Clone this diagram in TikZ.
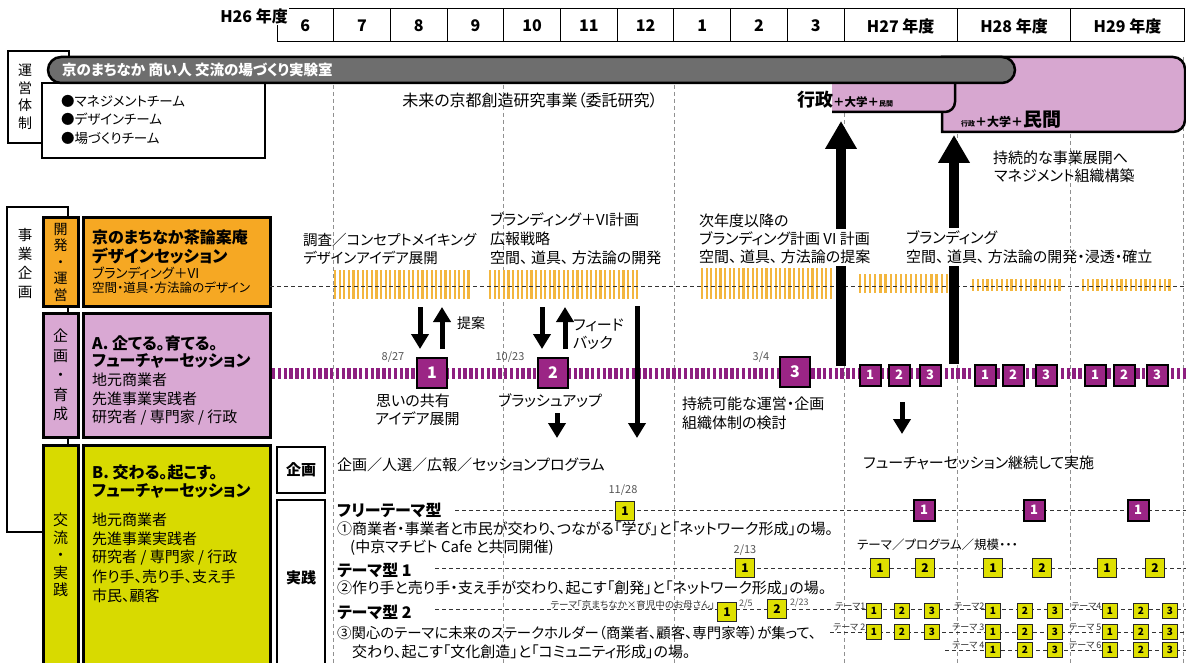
\documentclass[tikz,border=0pt]{standalone}
\usepackage{fontspec}
\setmainfont{Noto Sans CJK JP}[RawFeature=+palt]
\usetikzlibrary{arrows.meta}
\definecolor{gbar}{HTML}{6E6E6E}
\definecolor{pinkT}{HTML}{D7A7D0}
\definecolor{pinkB}{HTML}{D9A8D3}
\definecolor{orB}{HTML}{F6A823}
\definecolor{stripeC}{HTML}{F3B63E}
\definecolor{yelB}{HTML}{D8DA00}
\definecolor{magB}{HTML}{9B2585}
\definecolor{magL}{HTML}{8E1F80}
\definecolor{ysq}{HTML}{DFE000}
\definecolor{gridC}{HTML}{909090}
\definecolor{dateC}{HTML}{555555}
\newcommand\FS[1]{\fontsize{#1}{#1}\selectfont}
\begin{document}
\begin{tikzpicture}[x=1pt,y=-1pt,
 t/.style={inner sep=0pt, anchor=west, font=\FS{15}},
 tw/.style={t, fill=white, inner ysep=2.5pt, inner xsep=1pt},
 tb/.style={inner sep=0pt, anchor=west, font=\bfseries\FS{15.5}},
 lbl/.style={inner sep=0pt, font=\FS{11}, text=dateC},
 thm/.style={inner sep=0.5pt, anchor=south east, font=\FS{9}, text=black!80},
 gridl/.style={draw=gridC, line width=0.8pt, dash pattern=on 4pt off 3pt},
 dsh/.style={draw=black!80, line width=0.7pt, dash pattern=on 4pt off 3pt},
 frm/.style={draw=black, line width=1.2pt},
 cbox/.style={draw=black, line width=3pt},
 msq/.style={draw=black, line width=2.5pt, fill=magB, text=white, inner sep=0pt, minimum size=30pt, font=\bfseries\FS{16}},
 msqs/.style={msq, line width=2pt, minimum size=21pt, font=\bfseries\FS{13}},
 ysqA/.style={draw=black!85, line width=1.3pt, fill=ysq, inner sep=0pt, minimum size=19pt, font=\bfseries\FS{12}},
 ysqB/.style={ysqA, minimum size=15pt, line width=1.1pt, font=\bfseries\FS{10}},
 marr/.style={line width=5pt, -{Triangle[width=17pt,length=15pt]}},
 barr/.style={line width=10pt, -{Triangle[width=30pt,length=28pt]}},
 vt/.style={align=center, inner sep=0pt},
]
\useasboundingbox (0,0) rectangle (1186,663);
\fill[white] (0,0) rectangle (1186,663);

% grid
\foreach \x in {333.7,503.8,673.9,844,957.4,1070.8,1183.5} \draw[gridl] (\x,57) -- (\x,663);

% header
\draw[line width=1pt] (277,9) rectangle (1184,42);
\foreach \x in {333.7,390.4,447.1,503.8,560.5,617.2,673.9,730.6,787.3,844,957.4,1070.8} \draw[line width=1pt] (\x,9) -- (\x,42);
\foreach \lab [count=\i] in {6,7,8,9,10,11,12,1,2,3}
  \node[font=\bfseries\FS{16}, inner sep=0pt] (m\i) at ({277+56.7*(\i-0.5)},26) {\lab};
\node[font=\bfseries\FS{16}, inner sep=0pt] (yr27) at (900.7,26) {H27 年度};
\node[font=\bfseries\FS{16}, inner sep=0pt] (yr28) at (1014.1,26) {H28 年度};
\node[font=\bfseries\FS{16}, inner sep=0pt] (yr29) at (1127.5,26) {H29 年度};
\node[fill=white, inner sep=1pt, anchor=east, font=\bfseries\FS{16}] (h26) at (289,16) {H26 年度};

% unei box
\draw[frm] (69,57) -- (69,51) -- (8,51) -- (8,143) -- (42,143);
\node[vt, font=\fontsize{14}{17.5}\selectfont] (unei) at (25,97) {運\\営\\体\\制};
\draw[frm, fill=white] (42,83) rectangle (265,158);
\node[t, font=\FS{13.5}] (li1) at (61,101) {●マネジメントチーム};
\node[t, font=\FS{13.5}] (li2) at (61,119) {●デザインチーム};
\node[t, font=\FS{13.5}] (li3) at (61,138) {●場づくりチーム};

% pink shapes
\draw[fill=pinkT, line width=2.5pt] (942,132) -- (942,57) -- (1173,57) arc[start angle=-90,end angle=0,radius=12] -- (1185,120) arc[start angle=0,end angle=90,radius=12] -- cycle;
\fill[pinkT] (832,83) -- (955,83) -- (955,102) arc[start angle=0,end angle=90,radius=10] -- (832,112) -- cycle;
\draw[line width=2.5pt] (832,112) -- (945,112) arc[start angle=90,end angle=0,radius=10] -- (955,83);
% gray bar
\draw[fill=gbar, line width=2.5pt, rounded corners=13pt] (48,57) rectangle (1015,83);
\node[t, font=\bfseries\FS{14.5}, text=white] (bart) at (62,70) {京のまちなか 商い人 交流の場づくり実験室};

\node[t, anchor=center, font=\FS{16}] (mirai) at (530,100) {未来の京都創造研究事業（委託研究）};
\node[inner sep=0pt, anchor=base west] (gyo1) at (797,107) {\bfseries\FS{18}行政\FS{11.5}＋大学＋\FS{7}民間};
\node[inner sep=0pt, anchor=base west] (gyo2) at (961,127) {\bfseries\FS{7}行政\FS{12}＋大学＋\FS{19}民間};
\node[t] (jz3) at (993,158) {持続的な事業展開へ};
\node[t] (jz4) at (994,176) {マネジメント組織構築};

% jigyo frame
\draw[frm] (43,532) -- (7,532) -- (7,207) -- (68,207) -- (68,445);
\node[vt, font=\fontsize{14.5}{19}\selectfont] (jigyo) at (25,263) {事\\業\\企\\画};

% colored boxes
\draw[cbox, fill=orB] (43,218) rectangle (78,306);
\draw[cbox, fill=orB] (83,218) rectangle (270,306);
\draw[cbox, fill=pinkB] (43,313) rectangle (78,437);
\draw[cbox, fill=pinkB] (83,313) rectangle (270,437);
\draw[cbox, fill=yelB] (43,445) rectangle (78,670);
\draw[cbox, fill=yelB] (83,445) rectangle (270,670);
\node[vt, font=\fontsize{14}{16.5}\selectfont] (kaihatsu) at (60.5,262) {開\\発\\・\\運\\営};
\node[vt, font=\fontsize{15}{19.5}\selectfont] (kikaku) at (60.5,375) {企\\画\\・\\育\\成};
\node[vt, font=\fontsize{15}{17.5}\selectfont] (koryu) at (60.5,555) {交\\流\\・\\実\\践};

\node[tb, font=\bfseries\FS{16}] (o1) at (92,237) {京のまちなか茶論案庵};
\node[tb, font=\bfseries\FS{16.5}] (o2) at (92,256) {デザインセッション};
\node[t, font=\FS{13.5}] (o3) at (92,273) {ブランディング＋VI};
\node[t, font=\FS{12.5}] (o4) at (92,288) {空間・道具・方法論のデザイン};

\node[tb, font=\bfseries\FS{16}] (p1) at (92,343) {A. 企てる。育てる。};
\node[tb, font=\bfseries\FS{16}] (p2) at (92,361) {フューチャーセッション};
\node[t] (p3) at (92,380) {地元商業者};
\node[t] (p4) at (92,399) {先進事業実践者};
\node[t] (p5) at (92,418) {研究者 / 専門家 / 行政};

\node[tb, font=\bfseries\FS{16}] (q1) at (92,473) {B. 交わる。起こす。};
\node[tb, font=\bfseries\FS{16}] (q2) at (92,491) {フューチャーセッション};
\node[t] (q3) at (92,520) {地元商業者};
\node[t] (q4) at (92,539) {先進事業実践者};
\node[t] (q5) at (92,558) {研究者 / 専門家 / 行政};
\node[t] (q6) at (92,577) {作り手、売り手、支え手};
\node[t] (q7) at (92,596) {市民、顧客};

\draw[line width=2pt] (277,447) rectangle (325,493);
\node[font=\bfseries\FS{15}, inner sep=0pt] (kk) at (301,470) {企画};
\draw[line width=2pt] (277,500) rectangle (325,670);
\node[font=\bfseries\FS{15}, inner sep=0pt] (jj) at (301,578) {実践};

% stripes
\foreach \a/\b/\ya/\yb/\p in {335/470/270/299/4.6, 490/640/270/299/4.6, 702/835/268/299/4.6, 860/947/274/293/5.1, 973/1060/279/291/4.8, 1083/1170/279/291/4.8} {
  \pgfmathtruncatemacro\nn{(\b-\a)/\p}
  \foreach \k in {0,...,\nn} \draw[stripeC, line width=2.2pt] (\a+\k*\p,\ya) -- (\a+\k*\p,\yb);
}
\draw[dsh] (270,286) -- (1186,286);

% texts above stripes (left part)
\node[t, font=\FS{14.5}] (c1) at (303,240) {調査／コンセプトメイキング};
\node[t, font=\FS{14.5}] (c2) at (303,258) {デザインアイデア展開};
\node[t] (c3) at (490,220) {ブランディング＋VI計画};
\node[t] (c4) at (490,239) {広報戦略};
\node[t] (c5) at (490,258) {空間、 道具、 方法論の開発};

% magenta line
\draw[magL, line width=11pt, dash pattern=on 3.4pt off 2.4pt] (272,373) -- (1186,373);
\node[msq] (s1) at (432,373) {1};
\node[msq] (s2) at (553,373) {2};
\node[msq] (s3) at (795,372) {3};
\foreach \x/\n [count=\i] in {870/1,899/2,930/3,985/1,1013/2,1046/3,1095/1,1124/2,1157/3}
  \node[msqs] (g\i) at (\x,375) {\n};
\node[lbl] (d1) at (393,357) {8/27};
\node[lbl] (d2) at (510,357) {10/23};
\node[lbl] (d3) at (761,357) {3/4};

% arrows
\coordinate (a1s) at (420,307); \coordinate (a1e) at (420,349);
\coordinate (a2s) at (442,349); \coordinate (a2e) at (442,307);
\coordinate (a3s) at (542,307); \coordinate (a3e) at (542,349);
\coordinate (a4s) at (565,349); \coordinate (a4e) at (565,307);
\coordinate (a5s) at (637,306); \coordinate (a5e) at (637,438);
\coordinate (a6s) at (557,413); \coordinate (a6e) at (557,438);
\coordinate (a7s) at (902,402); \coordinate (a7e) at (902,434);
\coordinate (b1s) at (841,366); \coordinate (b1e) at (841,121);
\coordinate (b2s) at (954,364); \coordinate (b2e) at (954,135);
\foreach \s/\e in {a1s/a1e,a2s/a2e,a3s/a3e,a4s/a4e,a5s/a5e,a6s/a6e,a7s/a7e} \draw[marr] (\s) -- (\e);
\draw[barr] (b1s) -- (b1e);
\draw[barr] (b2s) -- (b2e);

% texts above stripes (right part, over the big arrows)
\node[tw] (c6) at (698,221) {次年度以降の};
\node[tw] (c7) at (698,239) {ブランディング計画 VI 計画};
\node[tw] (c8) at (698,257) {空間、 道具、 方法論の提案};
\node[tw] (c9) at (905,238) {ブランディング};
\node[tw] (c10) at (905,257) {空間、 道具、 方法論の開発・浸透・確立};

\node[t, font=\FS{14}] (teian) at (457,323) {提案};
\node[t] (fb1) at (573,325) {フィード};
\node[t] (fb2) at (573,343) {バック};
\node[t] (om1) at (376,401) {思いの共有};
\node[t] (om2) at (375,419) {アイデア展開};
\node[t] (bu) at (498,401) {ブラッシュアップ};
\node[t] (jz1) at (682,404) {持続可能な運営・企画};
\node[t] (jz2) at (682,423) {組織体制の検討};

% bottom section
\node[t] (b0) at (337,465) {企画／人選／広報／セッションプログラム};
\node[t] (fs) at (863,463) {フューチャーセッション継続して実施};
\node[lbl] (bd1) at (623,490) {11/28};
\node[tb, font=\bfseries\FS{16}] (ft) at (337,510) {フリーテーマ型};
\draw[dsh] (455,510) -- (1186,510);
\node[ysqA] (ys1) at (625,511) {1};
\foreach \x [count=\i] in {924,1034,1138} \node[msqs] (fm\i) at (\x,510) {1};
\node[t] (b1) at (337,529) {①商業者・事業者と市民が交わり、つながる「学び」と「ネットワーク形成」の場。};
\node[t] (b2) at (350,548) {(中京マチビト Cafe と共同開催)};
\node[lbl] (bd2) at (745,550) {2/13};
\node[t, font=\FS{12.5}] (tp) at (857,545) {テーマ／プログラム／規模・・・};
\node[tb, font=\bfseries\FS{16}] (tk1) at (337,570) {テーマ型 1};
\draw[dsh] (435,568) -- (1186,568);
\node[ysqA] (ys2) at (745,568) {1};
\foreach \x/\n [count=\i] in {880/1,925/2,993/1,1042/2,1107/1,1155/2}
  \node[ysqA] (yr\i) at (\x,568) {\n};
\node[t] (b3) at (337,588) {②作り手と売り手・支え手が交わり、起こす「創発」と「ネットワーク形成」の場。};
\node[tb, font=\bfseries\FS{16}] (tk2) at (337,612) {テーマ型 2};
\draw[dsh] (435,609) -- (1186,609);
\draw[dsh] (830,632) -- (1186,632);
\draw[dsh] (945,650) -- (1186,650);
\node[inner sep=0pt, anchor=east, font=\FS{9.5}, text=black!80] (tm0) at (715,605) {テーマ「京まちなか×育児中のお母さん」};
\node[ysqA] (ys3) at (727,612) {1};
\node[inner sep=0pt, anchor=west, font=\FS{9}, text=dateC] (d25) at (739,604) {2/5};
\node[ysqA] (ys4) at (777,609) {2};
\node[inner sep=0pt, anchor=west, font=\FS{9}, text=dateC] (d223) at (790,603) {2/23};
\foreach \x/\n [count=\i] in {874/1,902/2,932/3,993/1,1025/2,1055/3,1110/1,1141/2,1170/3}
  \node[ysqB] (ta\i) at (\x,611) {\n};
\foreach \x/\n [count=\i] in {874/1,902/2,932/3,993/1,1025/2,1055/3,1110/1,1141/2,1170/3}
  \node[ysqB] (tb\i) at (\x,632) {\n};
\foreach \x/\n [count=\i] in {993/1,1025/2,1055/3,1110/1,1141/2,1170/3}
  \node[ysqB] (tc\i) at (\x,650) {\n};
\node[thm] (th1) at (866,611) {テーマ1};
\node[thm] (th2) at (985,611) {テーマ2};
\node[thm] (th3) at (1102,611) {テーマ4};
\node[thm] (th4) at (866,632) {テーマ 2};
\node[thm] (th5) at (985,632) {テーマ 3};
\node[thm] (th6) at (1102,632) {テーマ 5};
\node[thm] (th7) at (985,650) {テーマ 4};
\node[thm] (th8) at (1102,650) {テーマ 6};
\node[t, font=\FS{14.4}] (b4) at (337,633) {③関心のテーマに未来のステークホルダー（商業者、顧客、専門家等）が集って、};
\node[t] (b5) at (352,652) {交わり、起こす「文化創造」と「コミュニティ形成」の場。};
\end{tikzpicture}
\end{document}
